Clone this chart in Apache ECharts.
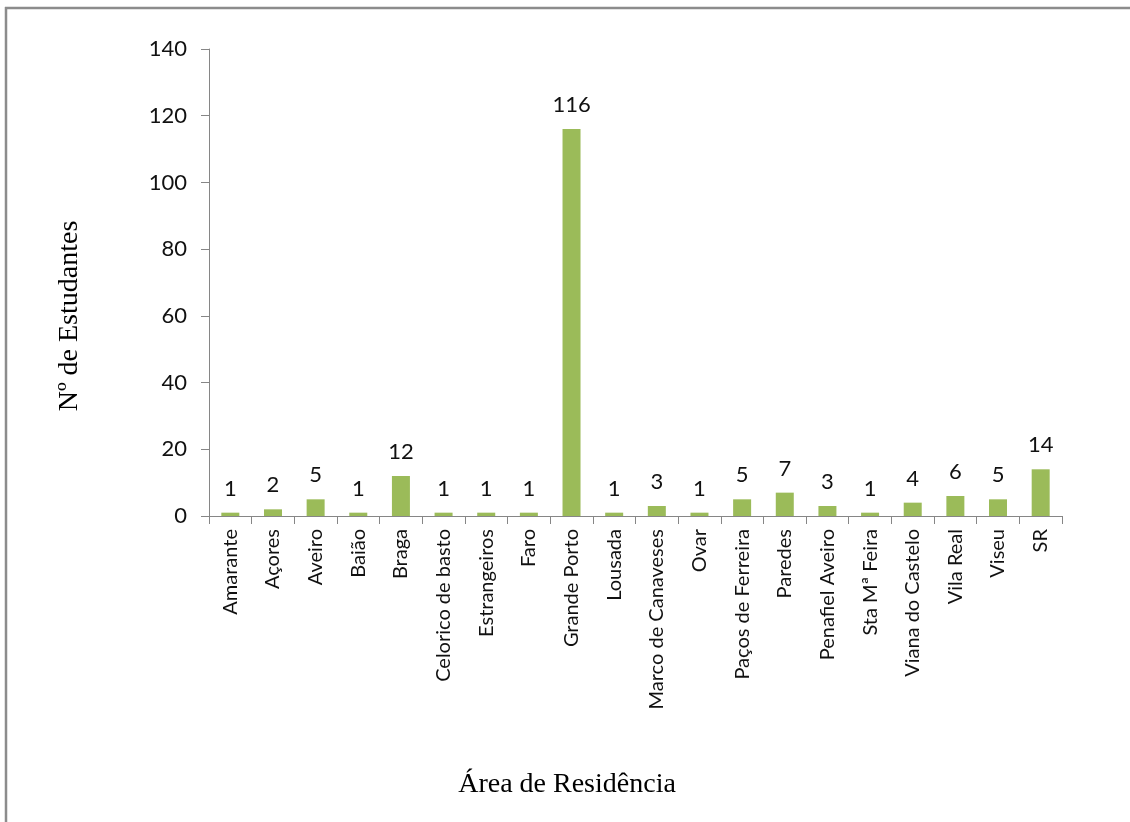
<!DOCTYPE html>
<html>
<head>
<meta charset="utf-8">
<script src="https://cdn.jsdelivr.net/npm/echarts@6/dist/echarts.min.js"></script>
<style>
  html, body { margin: 0; padding: 0; background: #fff; }
  #chart { width: 1130px; height: 822px; }
</style>
</head>
<body>
<div id="chart"></div>
<script>
// Students per area of residence
const categories = [
  'Amarante', 'Açores', 'Aveiro', 'Baião', 'Braga', 'Celorico de basto',
  'Estrangeiros', 'Faro', 'Grande Porto', 'Lousada', 'Marco de Canaveses',
  'Ovar', 'Paços de Ferreira', 'Paredes', 'Penafiel Aveiro', 'Sta Mª Feira',
  'Viana do Castelo', 'Vila Real', 'Viseu', 'SR'
];
const students = [1, 2, 5, 1, 12, 1, 1, 1, 116, 1, 3, 1, 5, 7, 3, 1, 4, 6, 5, 14];
const yTicks = { min: 0, max: 140, interval: 20 };

const xTitle = 'Área de Residência';
const yTitle = 'Nº de Estudantes';

const sansFont = 'Lato';
const serifFont = 'Liberation Serif';
const axisGrey = '#868686';
const textColor = '#111111';

const chart = echarts.init(document.getElementById('chart'), null, { renderer: 'canvas' });

chart.setOption({
  animation: false,
  backgroundColor: '#ffffff',
  grid: { left: 209, right: 68, top: 49, bottom: 306, containLabel: false },
  xAxis: {
    type: 'category',
    data: categories,
    boundaryGap: true,
    axisLine: { show: true, lineStyle: { color: axisGrey, width: 1 } },
    axisTick: { show: true, alignWithLabel: false, length: 8, lineStyle: { color: axisGrey } },
    axisLabel: {
      rotate: 90, interval: 0, margin: 13,
      fontFamily: sansFont, fontSize: 20, color: textColor
    },
    splitLine: { show: false }
  },
  yAxis: {
    type: 'value',
    min: yTicks.min, max: yTicks.max, interval: yTicks.interval,
    axisLine: { show: true, lineStyle: { color: axisGrey, width: 1 } },
    axisTick: { show: true, length: 8, lineStyle: { color: axisGrey } },
    axisLabel: { margin: 22, fontFamily: sansFont, fontSize: 22, color: textColor },
    splitLine: { show: false }
  },
  series: [{
    type: 'bar',
    data: students,
    barWidth: 18,
    itemStyle: { color: '#9BBB59' },
    label: {
      show: true, position: 'top', distance: 13,
      fontFamily: sansFont, fontSize: 22, color: textColor
    }
  }],
  graphic: [
    // frame: top and left edges
    { type: 'line', shape: { x1: 5, y1: 8, x2: 1130, y2: 8 },
      style: { stroke: '#8c8c8c', lineWidth: 2.5 }, silent: true },
    { type: 'line', shape: { x1: 6, y1: 7, x2: 6, y2: 822 },
      style: { stroke: '#8c8c8c', lineWidth: 2.5 }, silent: true },
    // axis titles
    { type: 'text', x: 567, y: 785,
      style: { text: xTitle, fontFamily: serifFont, fontSize: 28, fill: '#000',
               align: 'center', verticalAlign: 'middle' } },
    { type: 'text', x: 70, y: 316, rotation: Math.PI / 2,
      style: { text: yTitle, fontFamily: serifFont, fontSize: 28, fill: '#000',
               align: 'center', verticalAlign: 'middle' } }
  ]
});
</script>
</body>
</html>
